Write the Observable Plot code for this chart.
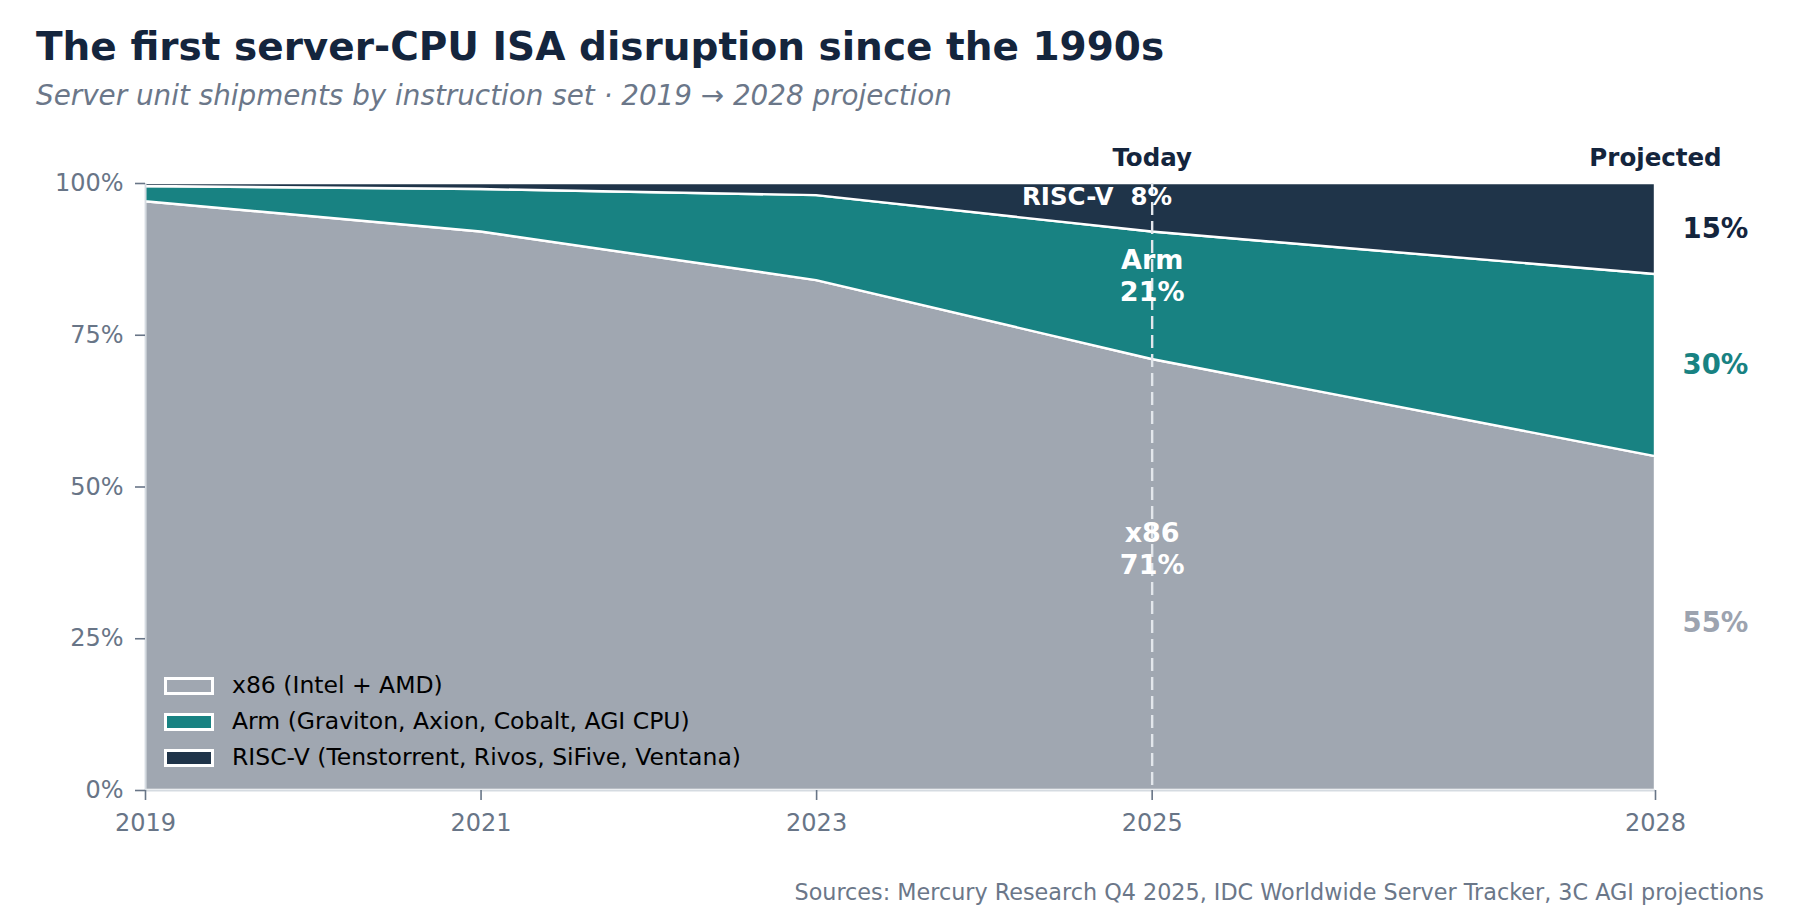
<!DOCTYPE html>
<html>
<head>
<meta charset="utf-8">
<script src="https://cdn.jsdelivr.net/npm/d3@7"></script>
<script src="https://cdn.jsdelivr.net/npm/@observablehq/plot@0.6"></script>
<style>
  html, body { margin: 0; padding: 0; background: #ffffff; }
  body { font-family: "DejaVu Sans", sans-serif; }
  #wrap { position: relative; width: 1800px; height: 919px; overflow: hidden; background: #fff; }
  #chart { position: absolute; left: 0; top: 0; }
  .abs { position: absolute; line-height: 1; white-space: nowrap; }
  #title { left: 36px; top: 27px; font-size: 39px; font-weight: bold; color: #14253d; }
  #subtitle { left: 36px; top: 82px; font-size: 27.8px; font-style: italic; color: #6b7789; }
  #caption { right: 36px; top: 881px; font-size: 22.3px; color: #6b7789; }
  #legend { left: 164px; top: 668px; }
  .lg-row { display: flex; align-items: center; height: 36px; }
  .lg-sw { width: 44px; height: 12.5px; border: 3px solid #ffffff; box-sizing: content-box; margin-right: 18px; }
  .lg-tx { font-size: 23.5px; color: #000000; }
</style>
</head>
<body>
<div id="wrap">
  <div id="chart"></div>
  <div id="title" class="abs"></div>
  <div id="subtitle" class="abs"></div>
  <div id="caption" class="abs"></div>
  <div id="legend" class="abs"></div>
</div>
<script>
// ---- Data ----
const years = [2019, 2021, 2023, 2025, 2028];
const isaKeys = ["x86", "Arm", "RISC-V"];
const legendLabels = [
  "x86 (Intel + AMD)",
  "Arm (Graviton, Axion, Cobalt, AGI CPU)",
  "RISC-V (Tenstorrent, Rivos, SiFive, Ventana)"
];
const x86Share = [97, 92, 84, 71, 55];
const armShare = [2.5, 7, 14, 21, 30];
const riscvShare = [0.5, 1, 2, 8, 15];
const isaColors = ["#a0a7b1", "#188282", "#1f3449"];
const rightLabelColors = ["#9ca3af", "#188282", "#14253d"];
const xTicks = [2019, 2021, 2023, 2025, 2028];
const yTicks = [0, 25, 50, 75, 100];
const todayYear = 2025;
const projYear = 2028;

const titleText = "The first server-CPU ISA disruption since the 1990s";
const subtitleText = "Server unit shipments by instruction set \u00b7 2019 \u2192 2028 projection";
const captionText = "Sources: Mercury Research Q4 2025, IDC Worldwide Server Tracker, 3C AGI projections";

// inside annotations (data units)
const insideLabels = [
  {x: todayYear, y: 40, text: "x86\n71%"},
  {x: todayYear, y: 85, text: "Arm\n21%"}
];
const riscvLabel = [{x: todayYear, y: 97.8, text: "RISC-V\u00a0 8%"}];
const headerLabels = [
  {x: todayYear, text: "Today"},
  {x: projYear, text: "Projected"}
];

// ---- Build table ----
const series = [x86Share, armShare, riscvShare];
const rows = [];
isaKeys.forEach((k, i) => years.forEach((yr, j) => rows.push({year: yr, isa: k, share: series[i][j]})));

// right-edge labels at final year: centered in each band
const last = years.length - 1;
let cum = 0;
const rightLabels = isaKeys.map((k, i) => {
  const v = series[i][last];
  const mid = cum + v / 2;
  cum += v;
  return {x: projYear, y: mid, text: `${Math.round(v)}%`, color: rightLabelColors[i]};
});

// ---- Text ----
document.getElementById("title").textContent = titleText;
document.getElementById("subtitle").textContent = subtitleText;
document.getElementById("caption").textContent = captionText;

const legend = d3.select("#legend");
isaKeys.forEach((k, i) => {
  const row = legend.append("div").attr("class", "lg-row");
  row.append("div").attr("class", "lg-sw").style("background", isaColors[i]);
  row.append("div").attr("class", "lg-tx").text(legendLabels[i]);
});

// ---- Plot ----
const chart = Plot.plot({
  width: 1800,
  height: 919,
  marginLeft: 145,
  marginRight: 145,
  marginTop: 183,
  marginBottom: 129,
  style: {fontFamily: "DejaVu Sans, sans-serif", color: "#687587", background: "transparent", overflow: "visible"},
  x: {domain: [2019, 2028]},
  y: {domain: [0, 100]},
  color: {domain: isaKeys, range: isaColors},
  marks: [
    Plot.areaY(rows, {x: "year", y: "share", z: "isa", fill: "isa", order: isaKeys, stroke: "#ffffff", strokeWidth: 2.4}),
    Plot.ruleX([todayYear], {stroke: "#e2e6eb", strokeWidth: 2.4, strokeDasharray: "13,6"}),
    Plot.ruleX([2019], {stroke: "#d5dbe1", strokeWidth: 1.8}),
    Plot.ruleY([0], {stroke: "#d5dbe1", strokeWidth: 1.8}),
    Plot.axisY({ticks: yTicks, tickFormat: d => d + "%", tickSize: 10, tickPadding: 12, fontSize: 24, label: null, strokeWidth: 1.6}),
    Plot.axisX({ticks: xTicks, tickFormat: d => String(d), tickSize: 10, tickPadding: 13, fontSize: 24, label: null, strokeWidth: 1.6}),
    Plot.text(insideLabels, {x: "x", y: "y", text: "text", fill: "#ffffff", fontSize: 27, fontWeight: "bold", lineHeight: 1.2}),
    Plot.text(riscvLabel, {x: "x", y: "y", text: "text", fill: "#ffffff", fontSize: 24.5, fontWeight: "bold", textAnchor: "end", dx: 20}),
    Plot.text(headerLabels, {x: "x", y: () => 100, text: "text", fill: "#14253d", fontSize: 24.5, fontWeight: "bold", dy: -25}),
    Plot.text(rightLabels, {x: "x", y: "y", text: "text", fill: d => d.color, fontSize: 27.5, fontWeight: "bold", textAnchor: "start", dx: 27})
  ]
});
document.getElementById("chart").appendChild(chart);
</script>
</body>
</html>
